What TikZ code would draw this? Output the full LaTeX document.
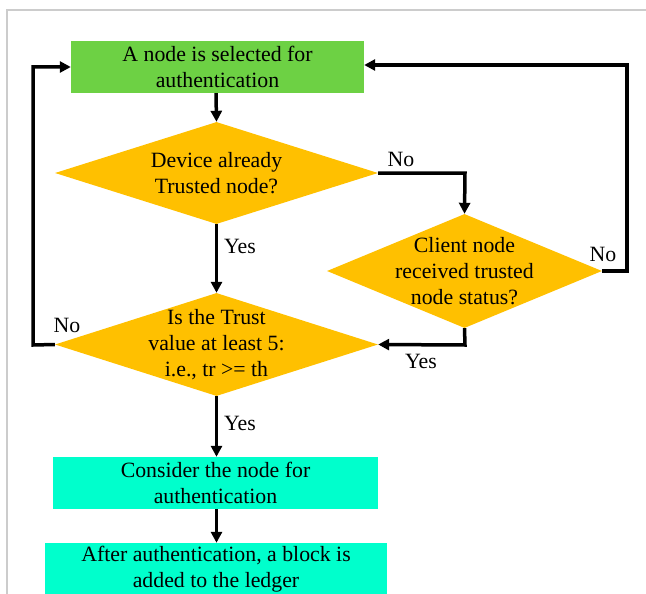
\documentclass[tikz,border=0pt]{standalone}
\usepackage{fontspec}
\setmainfont{Liberation Serif}
\usetikzlibrary{shapes.geometric,arrows.meta}
\definecolor{boxgreen}{RGB}{109,209,68}
\definecolor{boxcyan}{RGB}{0,255,204}
\definecolor{diamondgold}{RGB}{255,192,0}
\definecolor{framegray}{RGB}{204,204,204}
\tikzset{
  txt/.style={font=\fontsize{21.8}{26}\selectfont, align=center, text=black},
  procbox/.style={txt, rectangle, inner sep=0pt, draw=none},
  decision/.style={diamond, fill=diamondgold, draw=none, inner sep=0pt},
  flow/.style={line width=3.5pt, -{Triangle[length=11pt,width=11pt]}},
  lbl/.style={txt, inner sep=0pt}
}
\begin{document}
\begin{tikzpicture}[x=1pt,y=-1pt]
  \useasboundingbox (0,0) rectangle (646,594);
  % page frame
  \draw[framegray, line width=1.2pt] (7,594) -- (7,10) -- (646,10);

  % process boxes
  \node[procbox, fill=boxgreen, minimum width=293, minimum height=52] (start) at (217.5,67) {A node is selected for\\authentication};
  \node[procbox, fill=boxcyan, minimum width=325, minimum height=52] (consider) at (215.5,483) {Consider the node for\\authentication};
  \node[procbox, fill=boxcyan, minimum width=342, minimum height=53] (ledger) at (216,569.5) {After authentication, a block is\\added to the ledger};

  % decisions
  \node[decision, minimum width=323, minimum height=102,
        label={[txt]center:Device already\\Trusted node?}] (trusted) at (216.5,173) {};
  \node[decision, minimum width=275, minimum height=114,
        label={[txt]center:Client node\\received trusted\\node status?}] (client) at (464.5,271) {};
  \node[decision, minimum width=323, minimum height=103,
        label={[txt]center:Is the Trust\\value at least 5:\\i.e., tr >= th}] (trust) at (216.5,344.5) {};

  % bend points of the loops
  \coordinate (noA) at (465,173);
  \coordinate (noB1) at (627,271);
  \coordinate (noB2) at (627,65);
  \coordinate (yesB) at (465,345);
  \coordinate (noC1) at (33,345);
  \coordinate (noC2) at (33,67);

  % connectors
  \draw[flow] (start.south -| 216,0) -- (trusted.north);
  \draw[flow] (trusted.south) -- (trust.north);
  \draw[flow] (trusted.east) -- (noA) -- (client.north);
  \draw[flow] (client.east) -- (noB1) -- (noB2) -- (start.east |- noB2);
  \draw[flow] (client.south) -- (yesB) -- (trust.east);
  \draw[flow] (trust.west) -- (noC1) -- (noC2) -- (start.west |- noC2);
  \draw[flow] (trust.south) -- (consider.north -| trust.south);
  \draw[flow] (consider.south -| trust.south) -- (ledger.north -| trust.south);

  % branch labels
  \node[lbl] (lNoA) at (401,159) {No};
  \node[lbl] (lYesA) at (240,246) {Yes};
  \node[lbl] (lNoB) at (603,254) {No};
  \node[lbl] (lYesB) at (421,361) {Yes};
  \node[lbl] (lNoC) at (67,325) {No};
  \node[lbl] (lYesC) at (240,423) {Yes};
\end{tikzpicture}
\end{document}
